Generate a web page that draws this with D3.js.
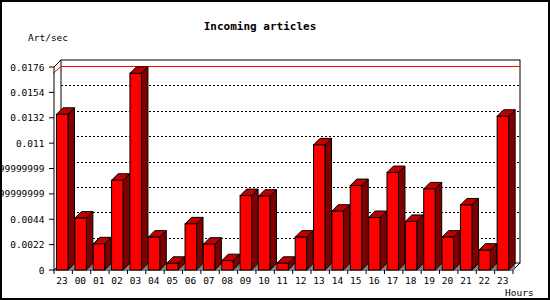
<!DOCTYPE html>
<html>
<head>
<meta charset="utf-8"/>
<title>Incoming articles</title>
<script src="https://d3js.org/d3.v7.min.js"></script>
<style>
  body { margin: 0; background: #fff; }
  text { font-family: "DejaVu Sans Mono", monospace; }
</style>
</head>
<body>
<div id="chart"></div>
<script>
// hours shown on the x axis (first bar is 23 of the previous day)
var hours = ["23","00","01","02","03","04","05","06","07","08","09","10","11",
             "12","13","14","15","16","17","18","19","20","21","22","23"];
// articles per second
var artPerSec = [0.0135, 0.0045, 0.00227, 0.00778, 0.01705, 0.00285, 0.00058, 0.0040,
                 0.00224, 0.00081, 0.00645, 0.00640, 0.00058, 0.00285, 0.01085, 0.00510,
                 0.00732, 0.00455, 0.00845, 0.00421, 0.00703, 0.00285, 0.00564, 0.00172, 0.01333];
var yTicks = [0, 0.0022, 0.0044, 0.0066, 0.0088, 0.011, 0.0132, 0.0154, 0.0176];
var yTickLabels = ["0", "0.0022", "0.0044", "0.0065999999999", "0.0087999999999",
                   "0.011", "0.0132", "0.0154", "0.0176"];

var W = 550, H = 300;
var depth = 7;       // offset of the back wall
var barDepth = 6.5;  // offset of each bar's side

var svg = d3.select("#chart").append("svg")
    .attr("width", W).attr("height", H);

//outer frame
svg.append("rect")
    .attr("x", 1).attr("y", 1).attr("width", W - 2).attr("height", H - 2)
    .attr("fill", "#fff").attr("stroke", "#000").attr("stroke-width", 2);

var x = d3.scaleBand().domain(d3.range(hours.length)).range([54, 513]);
var y = d3.scaleLinear().domain([0, 0.0176]).range([270, 67]);

var x0 = x.range()[0], x1 = x.range()[1];
var yb = y(0), yt = y(0.0176);

//back wall
svg.append("rect")
    .attr("x", x0 + depth).attr("y", yt - depth)
    .attr("width", x1 - x0).attr("height", yb - yt)
    .attr("fill", "#fff").attr("stroke", "#000");

//dotted grid on the back wall
svg.append("g").selectAll("line")
    .data(yTicks.slice(1, -1))
    .join("line")
    .attr("x1", x0 + depth).attr("x2", x1 + depth)
    .attr("y1", d => Math.round(y(d) - depth) + 0.5)
    .attr("y2", d => Math.round(y(d) - depth) + 0.5)
    .attr("stroke", "#000").attr("stroke-dasharray", "2,2");

//red line at the maximum value
var maxV = d3.max(artPerSec);
var ym = Math.round(y(maxV) - depth) + 0.5;
svg.append("polyline")
    .attr("points", [[x0 - 1, y(maxV)], [x0 + depth, ym], [x1 + depth, ym]].join(" "))
    .attr("fill", "none").attr("stroke", "#f00");

//front axis and the edges to the back wall
var edge = svg.append("g").attr("stroke", "#000").attr("fill", "none");
edge.append("polyline")
    .attr("points", [[x0 + depth, yt - depth], [x0, yt], [x0, yb], [x1, yb], [x1 + depth, yb - depth]].join(" "));
edge.append("line")
    .attr("x1", x0).attr("y1", yb).attr("x2", x0 + depth).attr("y2", yb - depth);

//bars
var bars = svg.append("g").selectAll("g")
    .data(artPerSec)
    .join("g");

bars.each(function(v, i) {
    var g = d3.select(this);
    var bx0 = x(i) + 2.5, bx1 = bx0 + 11.5;
    var top = y(v), d = barDepth;
    g.append("polygon")
        .attr("points", [[bx1, yb], [bx1 + d, yb - d], [bx1 + d, yb]].join(" "))
        .attr("fill", "#808080");
    g.append("polygon")
        .attr("points", [[bx1, yb], [bx1 + d, yb - d], [bx1 + d, top - d], [bx1, top]].join(" "))
        .attr("fill", "#800000").attr("stroke", "#000");
    g.append("polygon")
        .attr("points", [[bx0, top], [bx0 + d, top - d], [bx1 + d, top - d], [bx1, top]].join(" "))
        .attr("fill", "#c00000").attr("stroke", "#000");
    g.append("rect")
        .attr("x", bx0).attr("y", top)
        .attr("width", bx1 - bx0).attr("height", yb - top)
        .attr("fill", "#f00").attr("stroke", "#000");
});

//y ticks and labels
var yAxis = svg.append("g");
yAxis.selectAll("line")
    .data(yTicks)
    .join("line")
    .attr("x1", x0 - 5).attr("x2", x0)
    .attr("y1", d => y(d)).attr("y2", d => y(d))
    .attr("stroke", "#000");
yAxis.selectAll("text")
    .data(yTicks)
    .join("text")
    .attr("x", 44.5).attr("y", d => y(d) + 3.5)
    .attr("text-anchor", "end")
    .style("font-size", "9.5px")
    .text((d, i) => yTickLabels[i]);

//x ticks and labels
var xAxis = svg.append("g");
xAxis.selectAll("line")
    .data(d3.range(hours.length + 1))
    .join("line")
    .attr("x1", i => x0 + i * x.bandwidth()).attr("x2", i => x0 + i * x.bandwidth())
    .attr("y1", yb).attr("y2", yb + 4)
    .attr("stroke", "#000");
xAxis.selectAll("text")
    .data(hours)
    .join("text")
    .attr("x", (d, i) => x(i) + 8)
    .attr("y", 284)
    .attr("text-anchor", "middle")
    .style("font-size", "9.5px")
    .text(d => d);

//title and axis names
svg.append("text")
    .attr("x", 260).attr("y", 30)
    .attr("text-anchor", "middle")
    .style("font-size", "11px").style("font-weight", "bold")
    .text("Incoming articles");
svg.append("text")
    .attr("x", 28).attr("y", 40.5)
    .style("font-size", "9.5px")
    .text("Art/sec");
svg.append("text")
    .attr("x", 505).attr("y", 296)
    .style("font-size", "9.5px")
    .text("Hours");
</script>
</body>
</html>
